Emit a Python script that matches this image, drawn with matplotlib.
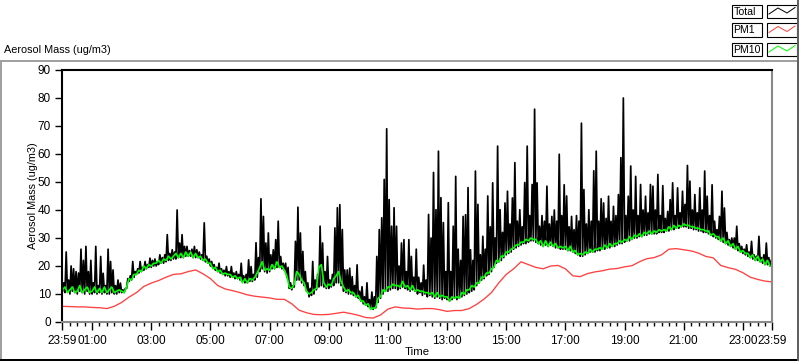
import numpy as np
import matplotlib
matplotlib.use("Agg")
import matplotlib.pyplot as plt
from matplotlib.lines import Line2D
from matplotlib.patches import Rectangle

plt.rcParams['font.family'] = ['Liberation Sans', 'DejaVu Sans']

# ---------------- data ----------------
# Total: lower envelope at hh:mm (every 5 min) and the spike top in each 5-min slot
total_low = [
    11, 10.5, 11, 10, 11, 10.5, 10, 11, 10.5, 10, 11, 10,
    10, 10.5, 10, 10.5, 10, 10.5, 10, 10, 10.5, 10, 10, 10.5,
    10.5, 10.5, 12, 14.5, 15, 16, 17, 17.5, 18, 18.5, 19, 19.5,
    19.5, 20, 20, 20.5, 21, 21, 21.5, 22, 22, 22.5, 22.5, 23,
    23, 23, 23.5, 23.5, 23.5, 23, 23, 23, 22.5, 22, 21.5, 21,
    20, 19.5, 18.5, 18, 17.5, 17, 16.5, 16.5, 16, 16, 15.5, 15.5,
    15, 14.5, 14, 14, 14.5, 14.5, 15, 16, 18, 19, 18, 17.5,
    18, 19, 19, 19.5, 19.5, 19, 18.5, 16, 12, 11.5, 12.5, 15,
    15, 14, 13, 11, 9, 9.5, 10, 11.5, 12.5, 13, 12.5, 12,
    12, 12.5, 13, 14, 14, 13, 11, 10.5, 10, 10, 9.5, 9,
    8.5, 7.5, 6.5, 6, 5.5, 5, 4.5, 5, 7, 8.5, 10, 11,
    11, 11.5, 12, 12, 11.5, 12, 12.5, 12, 11.5, 11, 11.5, 11,
    10, 10.5, 9.5, 10, 9, 9.5, 9, 8.5, 9, 8.5, 8, 8.5,
    8, 7.5, 8, 8.5, 8, 8.5, 9, 9.5, 10, 10.5, 11, 11.5,
    13, 14, 15, 15.5, 16.5, 17, 18, 19.5, 21, 21.5, 22, 23,
    24, 24.5, 25, 26, 26.5, 27, 27.5, 28, 28, 28.5, 29, 29,
    28.5, 28, 27.5, 27, 27.5, 27, 27.5, 27, 26.5, 26.5, 26, 26,
    26, 25.5, 25.5, 25, 24.5, 24, 23.5, 23.5, 24, 24.5, 25, 25,
    25, 25.5, 25.5, 26, 26, 26.5, 26.5, 27, 27, 27.5, 28, 28,
    28.5, 29, 29, 29.5, 30, 30, 30.5, 30.5, 31, 31, 31.5, 31.5,
    31.5, 31.5, 32, 32, 32, 32.5, 32.5, 33, 33, 33.5, 33.5, 34,
    34, 34, 33.5, 33.5, 33, 33, 32.5, 32.5, 32, 32, 31.5, 31,
    30.5, 30, 29.5, 29, 28.5, 28, 27.5, 27, 26.5, 26, 25.5, 25,
    24.5, 24, 23.5, 23, 22.5, 22, 22, 21.5, 21, 20.5, 20.5, 20,
]
total_peak = [
    14, 25, 15, 20, 19, 18, 17.5, 26, 22, 27, 18, 22,
    14, 27, 13, 23.4, 17.4, 13, 26, 21.6, 18.6, 13, 15, 13.9,
    11.5, 12, 15.5, 16.5, 21.6, 18, 19, 21.6, 19.5, 21.6, 20.5, 22.8,
    22, 22.5, 21.5, 24, 23, 24, 31.2, 24.5, 25.8, 25, 40, 28.2,
    31.2, 27, 27, 25.5, 26, 27, 25.8, 25, 24, 35.4, 23.5, 22.5,
    21.6, 20.5, 19.5, 21, 19, 18.5, 19.8, 18, 19.8, 17.5, 18, 17,
    21, 16.5, 17, 22.2, 19.8, 17, 28.3, 23, 44, 37.7, 28.2, 31.8,
    24, 25.8, 29.4, 36, 23.4, 21, 21, 19.5, 14, 13, 28.8, 41,
    31.8, 25.2, 18, 14, 12, 21.6, 15, 17, 34.2, 28.2, 18, 23.4,
    15, 17, 33.6, 40.8, 41.9, 33, 18.6, 18.6, 19.2, 16.2, 13, 20.4,
    11, 12.6, 9, 14, 8, 10.7, 9, 23.4, 33, 37.2, 50.9, 69,
    43.7, 34.2, 40.8, 34.2, 20, 28.2, 29.4, 18, 29.4, 23.4, 16, 26,
    16, 14, 20.3, 15, 38.4, 30, 53.4, 40.1, 61, 44.4, 35.5, 18,
    42.6, 18, 34.2, 52, 26, 22, 37.7, 38.3, 48, 25.8, 22, 53.9,
    42, 24, 30.6, 26, 45, 34, 49.7, 30, 62.8, 40.1, 32, 42.5,
    46.7, 35, 44.3, 56.9, 36, 40.1, 34, 49.8, 62.8, 38, 49.1, 76,
    49.7, 34.2, 38, 36, 48.5, 35, 37.7, 40, 36, 59.9, 38, 49,
    45, 34, 37.7, 33, 38, 36, 71, 47.3, 35, 40.1, 36, 54,
    61, 36, 44, 42.5, 37, 44.9, 36, 41.3, 38, 45.5, 58.7, 80,
    38, 44.9, 55.7, 40, 52, 38, 49.1, 40, 44.9, 39, 49.1, 48.5,
    40, 52.7, 38, 48.7, 37, 39.5, 43.7, 49.7, 38, 47.9, 39, 46.7,
    42, 55.9, 50.3, 40, 45.5, 39, 47.9, 40, 53.9, 44.9, 38, 49,
    36, 33, 37.7, 46.7, 40.7, 32, 29.4, 30, 30, 34.2, 28, 27,
    26, 27.6, 25, 28.8, 24, 23.5, 30.6, 23, 24, 28.2, 23, 22,
]
# PM10 every 5 min
pm10 = [
    11.5, 12.5, 10.5, 11.5, 12.5, 10.5, 11, 13, 10.5, 11.5, 12.5, 10.5,
    11, 12.5, 10.5, 12, 10.5, 12.5, 10.5, 11.5, 12.5, 10.5, 11, 11.5,
    11, 10.5, 12.5, 15.5, 15, 17, 17, 18.5, 18, 20, 19, 20.5,
    20, 21, 21, 22, 21, 22.5, 22, 23.5, 22.5, 23.5, 24.5, 23,
    24.5, 23, 25, 23.5, 25, 23, 24.5, 23, 23.5, 22, 22.5, 21,
    21, 19, 19.5, 18, 18.5, 17, 17.5, 17, 17, 16, 16.5, 15.5,
    16, 14, 15.5, 14, 15.5, 15, 16, 17.5, 19.5, 21.5, 18.5, 19,
    18.5, 20.5, 19, 21.5, 19.5, 20, 18.5, 16.5, 12.5, 12, 13.5, 18,
    17, 15, 14, 11, 10, 10.5, 11.5, 12, 19.5, 20.5, 14, 12.5,
    13.5, 13, 15.5, 16.5, 18, 14.5, 12.5, 11, 11.5, 10.5, 10.5, 9,
    9.5, 7.5, 7.5, 6, 6.5, 4.5, 5, 5, 8.5, 9, 11.5, 11,
    12.5, 12.5, 13.5, 13, 13, 12.5, 14.5, 12.5, 13, 11.5, 13, 11,
    11.5, 11, 11, 10.5, 10.5, 10, 10.5, 9, 10.5, 9, 9.5, 9,
    9, 7.5, 9, 8.5, 9, 8.5, 10.5, 10, 11.5, 11.5, 13, 12.5,
    14, 14, 16, 16, 17.5, 17.5, 19, 19.5, 22, 21.5, 23.5, 23.5,
    25, 25, 26, 26.5, 27.5, 27.5, 28.5, 28.5, 29.5, 29, 30, 29.5,
    29.5, 28, 29, 27, 29, 27, 28.5, 27, 28, 26.5, 27, 26.5,
    27, 25.5, 27, 25, 25.5, 24, 24.5, 24, 25, 24.5, 26, 25,
    26, 26, 26.5, 26, 27.5, 26.5, 28, 27, 28, 28, 29, 28.5,
    29.5, 29, 30.5, 29.5, 31, 30.5, 31.5, 30.5, 32, 31.5, 32.5, 31.5,
    32.5, 32, 33, 32.5, 33, 32.5, 34, 33, 34.5, 33.5, 34.5, 34,
    35, 34.5, 34.5, 34, 34, 33.5, 33.5, 33, 33, 32.5, 32.5, 31,
    31.5, 30.5, 30.5, 29, 30, 28, 29, 27, 28, 26, 27, 25,
    25.5, 24.5, 24.5, 23, 24, 22, 23.5, 21.5, 22.5, 20.5, 22, 20,
]
# PM1 every 15 min (00:00 ... 24:00)
pm1 = [
    5.6, 5.5, 5.4, 5.4, 5.2, 5.1, 4.8, 5.6, 7.0, 8.9, 10.5, 12.7,
    13.9, 14.8, 16.0, 17.0, 17.2, 18.0, 18.6, 17.2, 15.5, 13.0, 11.8, 11.2,
    10.5, 9.7, 9.2, 8.9, 8.6, 8.1, 8.1, 6.5, 4.2, 3.3, 2.7, 2.6,
    2.7, 3.1, 3.5, 3.0, 2.4, 1.6, 1.4, 2.5, 4.6, 5.4, 5.0, 4.9,
    4.6, 4.8, 4.8, 4.4, 3.8, 4.1, 4.1, 4.8, 6.3, 8.2, 10.5, 14.0,
    17.0, 19.0, 21.5, 20.5, 19.5, 19.0, 20.0, 20.2, 19.0, 16.5, 16.2, 17.3,
    17.9, 18.3, 18.9, 19.1, 19.7, 20.1, 21.5, 22.6, 23.0, 24.0, 26.0, 26.2,
    25.8, 25.4, 24.6, 23.4, 22.9, 20.2, 19.4, 18.8, 17.6, 16.0, 15.2, 14.6,
    14.3,
]
tick_minutes = [-1, 60, 180, 300, 420, 540, 660, 780, 900, 1020, 1140, 1260, 1380, 1439]
tick_labels = ['23:59', '01:00', '03:00', '05:00', '07:00', '09:00', '11:00',
               '13:00', '15:00', '17:00', '19:00', '21:00', '23:00', '23:59']
series_names = ['Total', 'PM1', 'PM10']
series_colors = ['#000000', '#ff4040', '#00ff00']

# ---------------- build ----------------
t5 = np.arange(0, 1440, 5)
t_total = np.empty(2 * len(t5))
t_total[0::2] = t5
t_total[1::2] = t5 + 2.5
v_total = np.empty(2 * len(t5))
v_total[0::2] = total_low
v_total[1::2] = total_peak
t15 = np.arange(0, 1441, 15)

W, H = 800, 361
fig = plt.figure(figsize=(W / 100, H / 100), dpi=100)
fig.patch.set_facecolor('white')

def fx(px):
    return px / W

def fy(py):
    return 1 - py / H

LW = 0.72  # one pixel
ax = fig.add_axes([fx(62), fy(322), (772 - 62) / W, (322 - 70) / H])
ax.plot(t_total, v_total, color=series_colors[0], lw=1.25, antialiased=True)
ax.plot(t15, pm1, color=series_colors[1], lw=0.95, antialiased=True)
ax.plot(t5, pm10, color=series_colors[2], lw=1.2, antialiased=True)
ax.set_xlim(-1, 1439)
ax.set_ylim(0, 90)

for side, col in [('top', 'black'), ('left', 'black'), ('right', '#8a8a8a'), ('bottom', '#8a8a8a')]:
    ax.spines[side].set_color(col)
    ax.spines[side].set_linewidth(1.5)

ax.set_yticks(range(0, 91, 10))
ax.tick_params(axis='y', direction='out', length=5, width=1, pad=3, labelsize=8.5, colors='black')
ax.set_xticks(tick_minutes)
ax.set_xticklabels(tick_labels)
ax.set_xticks(np.arange(15, 1439, 15), minor=True)
ax.tick_params(axis='x', which='major', direction='out', length=6, width=1, pad=3, labelsize=8.5)
ax.tick_params(axis='x', which='minor', direction='out', length=3, width=1)

TXT = 7.8
fig.text(fx(33), fy(196), 'Aerosol Mass (ug/m3)', rotation=90, ha='center', va='center', fontsize=TXT)
fig.text(fx(4), fy(50), 'Aerosol Mass (ug/m3)', ha='left', va='center', fontsize=TXT)
fig.text(fx(417), fy(352), 'Time', ha='center', va='center', fontsize=8.2)

# outer panel frame
def fline(x0, y0, x1, y1, col, lw=1.0):
    fig.add_artist(Line2D([fx(x0), fx(x1)], [fy(y0), fy(y1)], color=col, lw=lw,
                          transform=fig.transFigure, antialiased=False))

fline(0.5, 61, 797, 61, '#a0a0a0', 1.4)
fline(0.8, 61, 0.8, 360, '#a0a0a0', 1.4)
fline(0.5, 359.5, 798, 359.5, '#000000', 1.4)
fline(797.5, 0, 797.5, 360, '#606060', 1.4)

# legend
rows_top = [4.5, 23.0, 42.5]
box_h = 13.5
for name, col, top in zip(series_names, series_colors, rows_top):
    fig.add_artist(Rectangle((fx(732), fy(top + box_h)), 30 / W, box_h / H, transform=fig.transFigure,
                             facecolor='white', edgecolor='black', lw=0.8))
    fig.add_artist(Rectangle((fx(767), fy(top + box_h)), 30 / W, box_h / H, transform=fig.transFigure,
                             facecolor='white', edgecolor='black', lw=0.8))
    fig.text(fx(733.5), fy(top + box_h / 2 + 0.5), name, ha='left', va='center', fontsize=7.6)
    xs = [769, 778, 787, 795]
    ys = [top + 9.5, top + 3.5, top + 8.5, top + 3.0]
    fig.add_artist(Line2D([fx(x) for x in xs], [fy(y) for y in ys], color=col, lw=LW,
                          transform=fig.transFigure))

fig.savefig('out.png', dpi=100, facecolor='white')
